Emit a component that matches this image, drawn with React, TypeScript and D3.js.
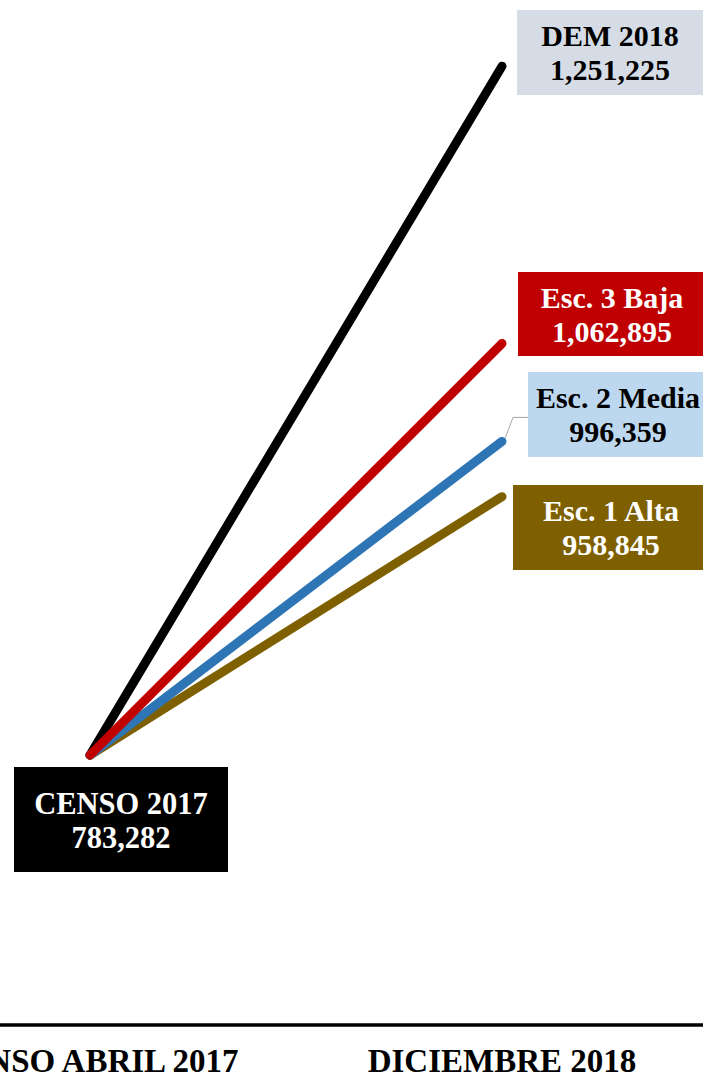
import React from "react";
import * as d3 from "d3";

const periods = ["CENSO ABRIL 2017", "DICIEMBRE 2018"];
const startValue = 783282;
const seriesNames = ["DEM 2018", "Esc. 1 Alta", "Esc. 2 Media", "Esc. 3 Baja"];
const endValues = [1251225, 958845, 996359, 1062895];
const seriesColors = ["#000000", "#7f6000", "#2e75b6", "#c00000"];

// label annotation layout (boxes)
const boxLayout = [
  { x: 517, y: 10, w: 200, h: 85, fill: "#d6dce5", text: "#000000", cx: 610 },
  { x: 513, y: 485, w: 200, h: 85, fill: "#7f6000", text: "#ffffff", cx: 611 },
  { x: 528, y: 372, w: 200, h: 85, fill: "#bdd7ee", text: "#000000", cx: 618 },
  { x: 518, y: 272, w: 200, h: 84, fill: "#c00000", text: "#ffffff", cx: 612 },
];
const censoBox = { x: 14, y: 767, w: 214, h: 105, fill: "#000000", text: "#ffffff", cx: 121 };

const W = 703;
const H = 1075;
const FONT = "'Liberation Serif', 'Times New Roman', serif";

export default function App() {
  const x = d3.scalePoint<string>().domain(periods).range([90, 502]);
  const y = d3.scaleLinear().domain([600000, 1300000]).range([1025, 1025 - 700000 / 679.2]);
  const fmt = d3.format(",");
  const x1 = x(periods[1])!;
  const line = d3
    .line<[string, number]>()
    .x((d) => x(d[0])!)
    .y((d) => y(d[1]));

  const blueIdx = 2;
  const bx = x1;
  const by = y(endValues[blueIdx]);

  return (
    <svg
      width={W}
      height={H}
      style={{ position: "absolute", left: 0, top: 0, background: "#fff" }}
      fontFamily={FONT}
      fontWeight="bold"
    >
      {seriesNames.map((n, i) => (
        <path
          key={n}
          d={line([
            [periods[0], startValue],
            [periods[1], endValues[i]],
          ])!}
          stroke={seriesColors[i]}
          strokeWidth={9}
          strokeLinecap="round"
          fill="none"
        />
      ))}
      {/* leader line for Esc. 2 */}
      <polyline
        points={`${bx + 3},${by - 3} ${bx + 11},${by - 24} ${boxLayout[2].x},${by - 24}`}
        fill="none"
        stroke="#a6a6a6"
        strokeWidth={1}
      />
      {seriesNames.map((n, i) => {
        const b = boxLayout[i];
        return (
          <g key={"b" + n}>
            <rect x={b.x} y={b.y} width={b.w} height={b.h} fill={b.fill} />
            <text x={b.cx} y={b.y + 36} textAnchor="middle" fontSize={30} fill={b.text}>
              {n}
            </text>
            <text x={b.cx} y={b.y + 70} textAnchor="middle" fontSize={30} fill={b.text}>
              {fmt(endValues[i])}
            </text>
          </g>
        );
      })}
      <rect x={censoBox.x} y={censoBox.y} width={censoBox.w} height={censoBox.h} fill={censoBox.fill} />
      <text x={censoBox.cx} y={814} textAnchor="middle" fontSize={30.5} fill={censoBox.text}>
        CENSO 2017
      </text>
      <text x={censoBox.cx} y={848} textAnchor="middle" fontSize={30.5} fill={censoBox.text}>
        {fmt(startValue)}
      </text>
      {/* axis */}
      <line x1={0} x2={W} y1={y(600000)} y2={y(600000)} stroke="#000" strokeWidth={3.5} />
      {periods.map((p) => (
        <text key={p} x={x(p)} y={1072} textAnchor="middle" fontSize={33} fill="#000">
          {p}
        </text>
      ))}
    </svg>
  );
}
